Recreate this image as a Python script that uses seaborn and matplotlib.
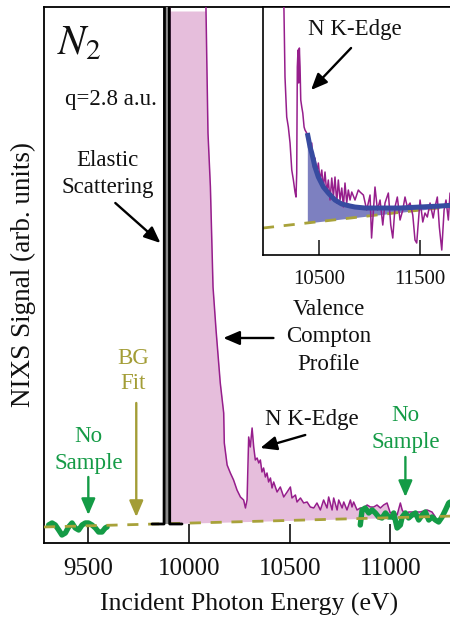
import numpy as np
import matplotlib
matplotlib.use("Agg")
import matplotlib.pyplot as plt
import seaborn as sns

# ---------------- data ----------------
main_ticks = [9500, 10000, 10500, 11000]
inset_ticks = [10500, 11500]

# elastic scattering line (black)
elastic_energy = [9816, 9840, 9860, 9876, 9879, 9901, 9904, 9930, 9965]
elastic_signal = [0.19, 0.19, 0.19, 0.19, 8.0, 8.0, 0.19, 0.19, 0.19]

# valence Compton profile + N K-edge (purple line, pink fill)
compton_energy = [9903, 9906, 9960, 10040, 10082, 10094, 10106, 10119, 10134, 10155, 10172,
                  10175, 10189, 10205, 10221, 10238, 10255, 10271, 10280, 10288, 10296,
                  10304, 10313, 10321, 10329, 10338, 10346, 10354, 10362, 10370, 10379,
                  10387, 10395, 10404, 10412, 10420, 10437, 10453, 10470, 10487, 10503,
                  10511, 10528, 10536, 10553, 10569, 10586, 10602, 10619, 10635, 10652,
                  10668, 10685, 10693, 10710, 10718, 10735, 10743, 10760, 10768, 10784,
                  10801, 10809, 10817, 10834, 10850, 10867, 10884, 10900, 10917, 10933,
                  10950, 10966, 10983, 10991, 10999, 11016, 11033, 11049, 11058, 11074,
                  11090, 11115, 11148, 11182, 11206, 11223]
compton_signal = [0.20, 8.0, 8.0, 8.0, 5.60, 4.10, 3.56, 2.56, 2.13, 1.60, 1.30,
                  1.00, 0.78, 0.70, 0.63, 0.53, 0.46, 0.43, 0.35, 0.43, 1.06,
                  0.96, 1.15, 0.96, 0.83, 0.85, 0.80, 0.83, 0.71, 0.75, 0.66,
                  0.70, 0.61, 0.65, 0.55, 0.61, 0.51, 0.56, 0.46, 0.51, 0.56,
                  0.45, 0.48, 0.41, 0.45, 0.40, 0.41, 0.36, 0.35, 0.40, 0.33,
                  0.43, 0.35, 0.46, 0.33, 0.45, 0.33, 0.43, 0.35, 0.41, 0.33,
                  0.43, 0.36, 0.41, 0.33, 0.35, 0.35, 0.38, 0.36, 0.36, 0.38,
                  0.35, 0.38, 0.40, 0.35, 0.30, 0.31, 0.28, 0.40, 0.33, 0.28,
                  0.31, 0.31, 0.31, 0.33, 0.31, 0.26]

# background fit (dashed olive)
bg_energy = [9280, 11320]
bg_signal = [0.16, 0.27]

# "No Sample" measurements (thick green)
nosample_left_energy = [9303, 9320, 9336, 9353, 9369, 9386, 9402, 9419, 9435, 9452,
                        9469, 9485, 9501, 9518, 9535, 9551, 9568, 9584, 9593]
nosample_left_signal = [0.18, 0.20, 0.18, 0.13, 0.08, 0.10, 0.16, 0.20, 0.15, 0.13,
                        0.18, 0.20, 0.20, 0.18, 0.15, 0.11, 0.11, 0.15, 0.16]
nosample_right_energy = [10850, 10859, 10875, 10892, 10909, 10925, 10941, 10958, 10975,
                         10991, 11008, 11016, 11033, 11049, 11058, 11074, 11090, 11107,
                         11124, 11140, 11157, 11173, 11190, 11206, 11223, 11239, 11256,
                         11273, 11289, 11297]
nosample_right_signal = [0.18, 0.33, 0.35, 0.30, 0.33, 0.30, 0.26, 0.25, 0.30,
                         0.26, 0.26, 0.30, 0.15, 0.18, 0.26, 0.30, 0.25, 0.28,
                         0.30, 0.23, 0.28, 0.31, 0.23, 0.26, 0.23, 0.21, 0.26,
                         0.33, 0.40, 0.41]

# inset: zoom on the N K-edge
inset_energy = [10148, 10153, 10163, 10180, 10196, 10213, 10230, 10246, 10262, 10272, 10279,
                10285, 10292, 10299, 10305, 10312, 10319, 10329, 10339, 10352, 10361,
                10378, 10394, 10411, 10428, 10444, 10460, 10477, 10493, 10510, 10527,
                10543, 10559, 10576, 10592, 10609, 10626, 10642, 10658, 10675, 10691,
                10708, 10725, 10741, 10757, 10774, 10790, 10807, 10824, 10856, 10889,
                10906, 10939, 10972, 11005, 11020, 11054, 11078, 11104, 11131, 11153,
                11186, 11210, 11230, 11252, 11275, 11302, 11329, 11351, 11374, 11401,
                11428, 11450, 11467, 11500, 11527, 11549, 11572, 11599, 11630, 11648,
                11671, 11691, 11715, 11738, 11757, 11780, 11797]
inset_signal = [2.70, 2.43, 1.78, 1.38, 1.28, 1.12, 0.85, 0.75, 0.63, 0.58, 0.82,
                1.88, 2.05, 1.72, 2.07, 1.88, 1.55, 1.48, 1.42, 1.28, 1.25,
                1.22, 1.15, 1.05, 1.12, 0.88, 0.97, 0.82, 0.92, 0.75, 0.85,
                0.67, 0.83, 0.62, 0.75, 0.55, 0.77, 0.58, 0.78, 0.52, 0.75,
                0.55, 0.67, 0.48, 0.72, 0.52, 0.65, 0.55, 0.63, 0.55, 0.65,
                0.63, 0.60, 0.45, 0.60, 0.17, 0.68, 0.45, 0.55, 0.30, 0.52,
                0.62, 0.30, 0.17, 0.48, 0.58, 0.35, 0.45, 0.58, 0.48, 0.52,
                0.40, 0.15, 0.12, 0.55, 0.33, 0.42, 0.38, 0.52, 0.37, 0.48,
                0.58, 0.28, 0.05, 0.45, 0.55, 0.35, 0.62]

# fitted edge (thick blue)
fit_energy = [10384, 10394, 10411, 10428, 10460, 10493, 10543, 10592, 10658, 10725,
              10807, 10856, 10955, 11022, 11104, 11302, 11500, 11698, 11850]
fit_signal = [1.22, 1.17, 1.08, 1.02, 0.88, 0.78, 0.68, 0.62, 0.55, 0.51,
              0.49, 0.48, 0.47, 0.47, 0.47, 0.47, 0.48, 0.49, 0.50]

inset_bg_energy = [9945, 11850]
inset_bg_signal = [0.27, 0.49]

# ---------------- style ----------------
sns.set_theme(style="white")
plt.rcParams["font.family"] = ["Liberation Serif", "DejaVu Serif"]
plt.rcParams["mathtext.fontset"] = "stix"

PURPLE = "#961e8c"
PINK = "#e6bedc"
GREEN = "#149b46"
OLIVE = "#a8a23a"
OLIVE_TXT = "#a39d36"
BLUE = "#374ba0"
BLUE_FILL = "#7d80c0"
INK = "#111111"
LS = 1.38

fig = plt.figure(figsize=(4.5, 6.19), dpi=100)
ax = fig.add_axes([0.0978, 0.1228, 0.9132, 0.8659])

# pink fill under the Compton profile
ce = np.array(compton_energy, dtype=float)
cs = np.array(compton_signal, dtype=float)
ax.fill_between(ce, np.interp(ce, bg_energy, bg_signal), np.minimum(cs, 5.32),
                color=PINK, lw=0, zorder=1)
sns.lineplot(x=compton_energy, y=compton_signal, ax=ax, color=PURPLE, lw=1.1,
             sort=False, estimator=None, zorder=3)

# no-sample measurements
for xs, ys in [(nosample_left_energy, nosample_left_signal),
               (nosample_right_energy, nosample_right_signal)]:
    sns.lineplot(x=xs, y=ys, ax=ax, color=GREEN, lw=3.9, sort=False, estimator=None,
                 zorder=5, solid_joinstyle="round", solid_capstyle="round")

# background fit
sns.lineplot(x=bg_energy, y=bg_signal, ax=ax, color=OLIVE, lw=2.0,
             linestyle=(0, (4, 3.5)), sort=False, estimator=None, zorder=6)

# elastic peak
ee = np.array(elastic_energy, dtype=float)
es = np.array(elastic_signal, dtype=float)
ax.fill_between(ee, 0.19, es, color="#8a8a8a", lw=0, zorder=6.5)
sns.lineplot(x=elastic_energy, y=elastic_signal, ax=ax, color="black", lw=2.0,
             sort=False, estimator=None, zorder=7)

ax.set_xlim(9280, 11320)
ax.set_ylim(0, 5.36)
ax.set_xticks(main_ticks)
ax.set_yticks([])
ax.tick_params(axis="x", direction="in", length=14, width=1.2, labelsize=18,
               pad=11, colors=INK, bottom=True, top=False)
for side in ["left", "bottom", "top"]:
    ax.spines[side].set_color("black")
    ax.spines[side].set_linewidth(1.3)
ax.spines["right"].set_visible(False)
ax.set_xlabel("Incident Photon Energy (eV)", fontsize=18.5, color=INK, labelpad=9)
ax.set_ylabel("NIXS Signal (arb. units)", fontsize=19.5, color=INK, labelpad=6)


def arrow(a, tail, head, color):
    a.annotate("", xy=head, xytext=tail,
               arrowprops=dict(arrowstyle="-|>,head_length=0.7,head_width=0.3",
                               lw=1.7, color=color, shrinkA=0, shrinkB=0,
                               mutation_scale=14), zorder=8)


ax.text(9346, 5.18, r"$N_2$", fontsize=30, ha="left", va="top", color=INK)
ax.text(9612, 4.43, "q=2.8 a.u.", fontsize=16.5, ha="center", va="center", color=INK)
ax.text(9594, 3.69, "Elastic\nScattering", fontsize=16.5, ha="center", va="center",
        color=INK, linespacing=LS)
arrow(ax, (9634, 3.40), (9858, 3.00), "black")
ax.text(10692, 2.06, "Valence\nCompton\nProfile", fontsize=16.5, ha="center",
        va="center", color=INK, linespacing=LS)
arrow(ax, (10419, 2.05), (10170, 2.05), "black")
ax.text(10610, 1.23, "N K-Edge", fontsize=16.5, ha="center", va="center", color=INK)
arrow(ax, (10577, 1.08), (10354, 0.95), "black")
ax.text(9723, 1.72, "BG\nFit", fontsize=16.5, ha="center", va="center",
        color=OLIVE_TXT, linespacing=1.3)
arrow(ax, (9738, 1.40), (9738, 0.26), OLIVE_TXT)
ax.text(9500, 0.93, "No\nSample", fontsize=16.5, ha="center", va="center",
        color=GREEN, linespacing=LS)
arrow(ax, (9500, 0.66), (9500, 0.28), GREEN)
ax.text(11074, 1.14, "No\nSample", fontsize=16.5, ha="center", va="center",
        color=GREEN, linespacing=LS)
arrow(ax, (11074, 0.86), (11074, 0.46), GREEN)

# ---------------- inset ----------------
axi = fig.add_axes([0.5844, 0.588, 0.4276, 0.4007])
axi.set_facecolor("white")
fe = np.array(fit_energy, dtype=float)
fs = np.array(fit_signal, dtype=float)
axi.fill_between(fe, np.interp(fe, inset_bg_energy, inset_bg_signal), fs,
                 color=BLUE_FILL, lw=0, zorder=1)
sns.lineplot(x=inset_energy, y=inset_signal, ax=axi, color=PURPLE, lw=1.1,
             sort=False, estimator=None, zorder=3)
sns.lineplot(x=fit_energy, y=fit_signal, ax=axi, color=BLUE, lw=3.6,
             sort=False, estimator=None, zorder=4, solid_capstyle="butt")
sns.lineplot(x=inset_bg_energy, y=inset_bg_signal, ax=axi, color=OLIVE, lw=2.0,
             linestyle=(0, (4, 3.5)), sort=False, estimator=None, zorder=2)
axi.set_xlim(9945, 11850)
axi.set_ylim(0, 2.48)
axi.set_xticks(inset_ticks)
axi.set_yticks([])
axi.tick_params(axis="x", direction="in", length=11, width=1.1, labelsize=15,
                pad=11, colors=INK, bottom=True, top=False)
for side in ["left", "bottom", "top"]:
    axi.spines[side].set_color("black")
    axi.spines[side].set_linewidth(1.2)
axi.spines["right"].set_visible(False)
axi.text(10851, 2.25, "N K-Edge", fontsize=16.5, ha="center", va="center", color=INK)
arrow(axi, (10817, 2.07), (10421, 1.65), "black")

fig.savefig("out.png", dpi=100)
